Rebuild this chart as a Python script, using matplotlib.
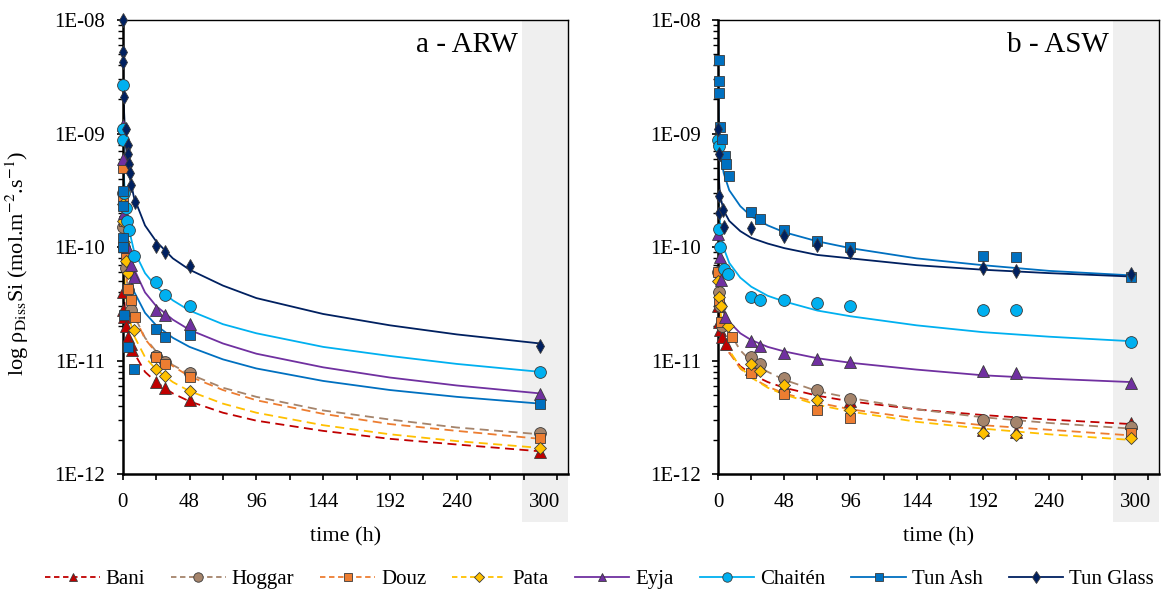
import matplotlib
matplotlib.use('Agg')
import math
import matplotlib.pyplot as plt
import matplotlib.transforms as mtransforms
from matplotlib.patches import Rectangle
from matplotlib.lines import Line2D
from matplotlib.ticker import MultipleLocator, FuncFormatter, LogLocator, NullFormatter

plt.rcParams['font.family'] = ['Liberation Serif', 'DejaVu Serif']
plt.rcParams['mathtext.fontset'] = 'stix'

''' Series names and styles '''
names = ['Bani', 'Hoggar', 'Douz', 'Pata', 'Eyja', 'Chaitén', 'Tun Ash', 'Tun Glass']
colors = ['#C00000', '#A5846B', '#ED7D31', '#FFC000', '#7030A0', '#00B0F0', '#0070C0', '#002060']
markers = ['^', 'o', 's', 'D', '^', 'o', 's', 'd']
msizes = [8, 8.5, 7.5, 6.5, 8, 8.5, 7.5, 7.5]
dashed = [True, True, True, True, False, False, False, False]

''' a - ARW : measured points (time in h, rate in mol.m-2.s-1) '''
arw_t_bani = [0.1, 0.5, 1, 2, 4, 6, 7, 24, 30, 48, 300]
arw_bani = [4.0e-11, 2.8e-11, 2.4e-11, 2.0e-11, 1.6e-11, 1.4e-11, 1.23e-11, 6.5e-12, 5.7e-12, 4.5e-12, 1.55e-12]
arw_t_hoggar = [0.1, 0.5, 1, 2, 4, 6, 24, 30, 48, 300]
arw_hoggar = [3.0e-10, 1.5e-10, 1.0e-10, 6.5e-11, 4.2e-11, 2.8e-11, 1.1e-11, 9.8e-12, 7.7e-12, 2.3e-12]
arw_t_douz = [0.1, 0.5, 1, 2, 4, 6, 9, 24, 30, 48, 300]
arw_douz = [5.0e-10, 2.8e-10, 1.7e-10, 8.0e-11, 4.3e-11, 3.4e-11, 2.4e-11, 1.07e-11, 9.4e-12, 7.2e-12, 2.07e-12]
arw_t_pata = [0.1, 0.5, 1, 2, 4, 8, 24, 30, 48, 300]
arw_pata = [2.4e-10, 1.7e-10, 1.1e-10, 7.5e-11, 5.9e-11, 1.86e-11, 8.4e-12, 7.3e-12, 5.4e-12, 1.68e-12]
arw_t_eyja = [0.1, 0.5, 1, 3, 6, 8, 24, 30, 48, 300]
arw_eyja = [1.2e-9, 6.0e-10, 2.0e-10, 1.0e-10, 6.9e-11, 5.4e-11, 2.8e-11, 2.5e-11, 2.1e-11, 5.1e-12]
arw_t_chaiten = [0.1, 0.3, 0.5, 1, 2, 3, 4.5, 8, 24, 30, 48, 300]
arw_chaiten = [2.7e-9, 1.1e-9, 8.8e-10, 3.0e-10, 2.2e-10, 1.7e-10, 1.4e-10, 8.3e-11, 4.9e-11, 3.8e-11, 3.0e-11, 8.0e-12]
arw_t_tunash = [0.05, 0.1, 0.3, 0.5, 0.8, 4, 8, 24, 30, 48, 300]
arw_tunash = [3.1e-10, 2.3e-10, 1.2e-10, 1.0e-10, 2.5e-11, 1.32e-11, 8.5e-12, 1.88e-11, 1.62e-11, 1.68e-11, 4.1e-12]
arw_t_tunglass = [0.1, 0.3, 0.5, 0.75, 2.5, 3.5, 4, 4.5, 5, 6, 8.5, 24, 30, 48, 300]
arw_tunglass = [1.0e-8, 5.2e-9, 4.3e-9, 2.1e-9, 1.1e-9, 7.9e-10, 6.6e-10, 5.4e-10, 4.5e-10, 3.5e-10, 2.5e-10,
                1.02e-10, 9.1e-11, 6.8e-11, 1.35e-11]

''' b - ASW : measured points '''
asw_t_bani = [0.1, 0.5, 1.5, 3, 6, 24, 48, 96, 192, 216, 300]
asw_bani = [3.0e-11, 2.2e-11, 1.86e-11, 1.6e-11, 1.4e-11, 8.5e-12, 6.0e-12, 4.4e-12, 2.45e-12, 2.35e-12, 2.8e-12]
asw_t_hoggar = [0.1, 0.5, 1, 3, 24, 30, 48, 72, 96, 192, 216, 300]
asw_hoggar = [6.0e-11, 4.0e-11, 3.0e-11, 2.0e-11, 1.08e-11, 9.4e-12, 7.0e-12, 5.5e-12, 4.55e-12, 3.0e-12, 2.9e-12, 2.6e-12]
asw_t_douz = [0.1, 0.5, 2, 10, 24, 48, 72, 96, 300]
asw_douz = [6.0e-11, 3.4e-11, 2.2e-11, 1.6e-11, 7.8e-12, 5.1e-12, 3.7e-12, 3.1e-12, 2.3e-12]
asw_t_pata = [0.1, 0.5, 2, 7, 24, 30, 48, 72, 96, 192, 216, 300]
asw_pata = [5.0e-11, 3.6e-11, 3.0e-11, 2.0e-11, 9.4e-12, 8.1e-12, 6.1e-12, 4.5e-12, 3.7e-12, 2.3e-12, 2.2e-12, 2.07e-12]
asw_t_eyja = [0.1, 1, 2, 5, 24, 30, 48, 72, 96, 192, 216, 300]
asw_eyja = [1.3e-10, 8.2e-11, 5.1e-11, 2.4e-11, 1.49e-11, 1.34e-11, 1.17e-11, 1.03e-11, 9.8e-12, 8.1e-12, 7.8e-12, 6.3e-12]
asw_t_chaiten = [0.1, 0.3, 0.5, 1, 4, 7, 24, 30, 48, 72, 96, 192, 216, 300]
asw_chaiten = [8.8e-10, 7.7e-10, 1.45e-10, 1.0e-10, 6.4e-11, 5.8e-11, 3.6e-11, 3.4e-11, 3.4e-11, 3.2e-11, 3.0e-11,
               2.8e-11, 2.8e-11, 1.47e-11]
asw_t_tunash = [0.3, 0.4, 0.5, 1, 3, 5, 5.5, 7.5, 24, 30, 48, 72, 96, 192, 216, 300]
asw_tunash = [4.4e-9, 2.9e-9, 2.26e-9, 1.15e-9, 8.9e-10, 6.3e-10, 5.4e-10, 4.2e-10, 2.05e-10, 1.77e-10, 1.41e-10,
              1.14e-10, 1.0e-10, 8.3e-11, 8.2e-11, 5.4e-11]
asw_t_tunglass = [0.1, 0.3, 0.5, 0.7, 3.5, 4.5, 24, 48, 72, 96, 192, 216, 300]
asw_tunglass = [1.1e-9, 6.6e-10, 2.8e-10, 2.0e-10, 2.1e-10, 1.5e-10, 1.46e-10, 1.25e-10, 1.04e-10, 9.0e-11,
                6.5e-11, 6.2e-11, 5.8e-11]

''' Trend curves, read off the picture as log10(rate) at curve_t '''
curve_t = [0.05, 0.1, 0.25, 0.5, 1, 2, 4, 8, 16, 24, 36, 48, 72, 96, 144, 192, 240, 300]
arw_fit_bani = [-9.72, -9.89, -10.10, -10.27, -10.44, -10.60, -10.77, -10.93, -11.10, -11.19, -11.29, -11.36, -11.46, -11.53, -11.62, -11.69, -11.74, -11.80]
arw_fit_hoggar = [-9.12, -9.32, -9.59, -9.79, -9.99, -10.20, -10.40, -10.60, -10.80, -10.92, -11.04, -11.12, -11.24, -11.32, -11.44, -11.52, -11.59, -11.65]
arw_fit_douz = [-9.08, -9.29, -9.57, -9.77, -9.98, -10.19, -10.40, -10.60, -10.81, -10.93, -11.05, -11.14, -11.26, -11.35, -11.47, -11.56, -11.62, -11.69]
arw_fit_pata = [-9.39, -9.58, -9.83, -10.02, -10.21, -10.40, -10.59, -10.78, -10.97, -11.08, -11.19, -11.27, -11.38, -11.46, -11.57, -11.65, -11.71, -11.77]
arw_fit_eyja = [-8.64, -8.85, -9.13, -9.34, -9.55, -9.76, -9.98, -10.19, -10.40, -10.52, -10.64, -10.73, -10.85, -10.94, -11.06, -11.15, -11.22, -11.29]
arw_fit_chaiten = [-8.53, -8.73, -9.00, -9.21, -9.41, -9.62, -9.82, -10.03, -10.23, -10.35, -10.47, -10.56, -10.68, -10.76, -10.88, -10.96, -11.03, -11.10]
arw_fit_tunash = [-9.00, -9.19, -9.44, -9.63, -9.82, -10.01, -10.20, -10.39, -10.58, -10.69, -10.80, -10.88, -10.99, -11.07, -11.18, -11.26, -11.32, -11.38]
arw_fit_tunglass = [-7.76, -8.00, -8.33, -8.58, -8.82, -9.07, -9.32, -9.56, -9.81, -9.95, -10.10, -10.20, -10.34, -10.45, -10.59, -10.69, -10.77, -10.85]

asw_fit_bani = [-10.05, -10.17, -10.33, -10.45, -10.57, -10.69, -10.81, -10.93, -11.05, -11.12, -11.19, -11.24, -11.31, -11.36, -11.43, -11.48, -11.52, -11.56]
asw_fit_hoggar = [-9.56, -9.72, -9.94, -10.10, -10.26, -10.43, -10.59, -10.75, -10.91, -11.01, -11.10, -11.17, -11.27, -11.33, -11.43, -11.50, -11.55, -11.60]
asw_fit_douz = [-9.92, -10.06, -10.24, -10.38, -10.52, -10.66, -10.79, -10.93, -11.07, -11.15, -11.23, -11.29, -11.37, -11.43, -11.51, -11.57, -11.61, -11.66]
asw_fit_pata = [-9.81, -9.96, -10.16, -10.31, -10.46, -10.61, -10.76, -10.91, -11.06, -11.15, -11.24, -11.30, -11.39, -11.45, -11.54, -11.60, -11.65, -11.70]
asw_fit_eyja = [-9.91, -10.01, -10.15, -10.25, -10.35, -10.45, -10.56, -10.66, -10.76, -10.82, -10.88, -10.92, -10.98, -11.02, -11.08, -11.13, -11.16, -11.19]
asw_fit_chaiten = [-9.17, -9.30, -9.48, -9.61, -9.74, -9.88, -10.01, -10.14, -10.27, -10.35, -10.43, -10.48, -10.56, -10.61, -10.69, -10.75, -10.79, -10.83]
asw_fit_tunash = [-8.44, -8.58, -8.77, -8.92, -9.06, -9.21, -9.35, -9.50, -9.64, -9.73, -9.81, -9.87, -9.95, -10.01, -10.10, -10.16, -10.21, -10.25]
asw_fit_tunglass = [-9.09, -9.18, -9.30, -9.40, -9.49, -9.58, -9.68, -9.77, -9.86, -9.92, -9.97, -10.01, -10.07, -10.10, -10.16, -10.20, -10.23, -10.26]

xticks_labelled = [0, 48, 96, 144, 192, 240]

arw_pts = [(arw_t_bani, arw_bani), (arw_t_hoggar, arw_hoggar), (arw_t_douz, arw_douz), (arw_t_pata, arw_pata),
           (arw_t_eyja, arw_eyja), (arw_t_chaiten, arw_chaiten), (arw_t_tunash, arw_tunash),
           (arw_t_tunglass, arw_tunglass)]
asw_pts = [(asw_t_bani, asw_bani), (asw_t_hoggar, asw_hoggar), (asw_t_douz, asw_douz), (asw_t_pata, asw_pata),
           (asw_t_eyja, asw_eyja), (asw_t_chaiten, asw_chaiten), (asw_t_tunash, asw_tunash),
           (asw_t_tunglass, asw_tunglass)]
arw_fits = [arw_fit_bani, arw_fit_hoggar, arw_fit_douz, arw_fit_pata, arw_fit_eyja, arw_fit_chaiten,
            arw_fit_tunash, arw_fit_tunglass]
asw_fits = [asw_fit_bani, asw_fit_hoggar, asw_fit_douz, asw_fit_pata, asw_fit_eyja, asw_fit_chaiten,
            asw_fit_tunash, asw_fit_tunglass]

'''Plot-Setup'''
fig = plt.figure(figsize=(11.69, 5.97), dpi=100)
ax1 = fig.add_axes([0.105, 0.206, 0.381, 0.7605])
ax2 = fig.add_axes([0.6144, 0.206, 0.377, 0.7605])


def fmt_log(v, pos):
    e = int(round(math.log10(v)))
    return f'1E-{-e:02d}'


def draw_panel(ax, pts, fits, title):
    # grey band behind the 300 h point, reaching down under the tick labels
    trans = mtransforms.blended_transform_factory(ax.transData, ax.transAxes)
    ax.add_patch(Rectangle((287, -0.106), 33, 1.106, transform=trans, facecolor='#EFEFEF',
                           edgecolor='none', clip_on=False, zorder=0))
    for i in range(len(names)):
        ls = (0, (5, 3)) if dashed[i] else '-'
        ax.plot(curve_t, [10 ** v for v in fits[i]], color=colors[i], ls=ls, lw=1.3, zorder=2)
    for i in range(len(names)):
        t, v = pts[i]
        ax.plot(t, v, ls='none', marker=markers[i], ms=msizes[i], mfc=colors[i], mec='#3a3a3a',
                mew=0.6, zorder=3, clip_on=False)
    ax.set_yscale('log')
    ax.set_ylim(1e-12, 1e-8)
    ax.set_xlim(0, 320)
    ax.yaxis.set_major_locator(LogLocator(base=10, numticks=10))
    ax.yaxis.set_minor_locator(LogLocator(base=10, subs=range(2, 10), numticks=10))
    ax.yaxis.set_major_formatter(FuncFormatter(fmt_log))
    ax.yaxis.set_minor_formatter(NullFormatter())
    ax.xaxis.set_major_locator(MultipleLocator(24))
    ax.xaxis.set_major_formatter(FuncFormatter(lambda x, p: f'{x:.0f}' if x in xticks_labelled else ''))
    ax.tick_params(axis='both', which='major', labelsize=15, direction='out', length=4.5, width=1.2)
    ax.tick_params(axis='x', which='major', pad=9)
    ax.tick_params(axis='y', which='major', pad=8)
    ax.tick_params(axis='y', which='minor', direction='out', length=3.5, width=1)
    for s in ['left', 'bottom']:
        ax.spines[s].set_linewidth(1.8)
    for s in ['top', 'right']:
        ax.spines[s].set_linewidth(1.0)
    ax.annotate('300', xy=(303, 0), xycoords=('data', 'axes fraction'), xytext=(0, -13.5),
                textcoords='offset points', ha='center', va='top', fontsize=15)
    ax.set_xlabel('time (h)', fontsize=16, labelpad=11)
    ax.text(284, 0.945, title, transform=trans, ha='right', va='center', fontsize=21)


draw_panel(ax1, arw_pts, arw_fits, 'a - ARW')
draw_panel(ax2, asw_pts, asw_fits, 'b - ASW')
ax1.set_ylabel('log ρ$_{\\mathrm{Diss}}$Si (mol.m$^{-2}$.s$^{-1}$)', fontsize=16)
ax1.yaxis.set_label_coords(-0.205, 0.465)

handles = []
for i in range(len(names)):
    handles.append(Line2D([], [], color=colors[i], ls=(0, (3, 2)) if dashed[i] else '-', lw=1.3,
                          marker=markers[i], ms=msizes[i] * 0.8, mfc=colors[i], mec='#3a3a3a', mew=0.6))
fig.legend(handles, names, loc='center', bbox_to_anchor=(0.513, 0.03), ncol=8, frameon=False, fontsize=15,
           handlelength=2.6, handletextpad=0.3, columnspacing=1.25)

fig.savefig('out.png', dpi=100)
